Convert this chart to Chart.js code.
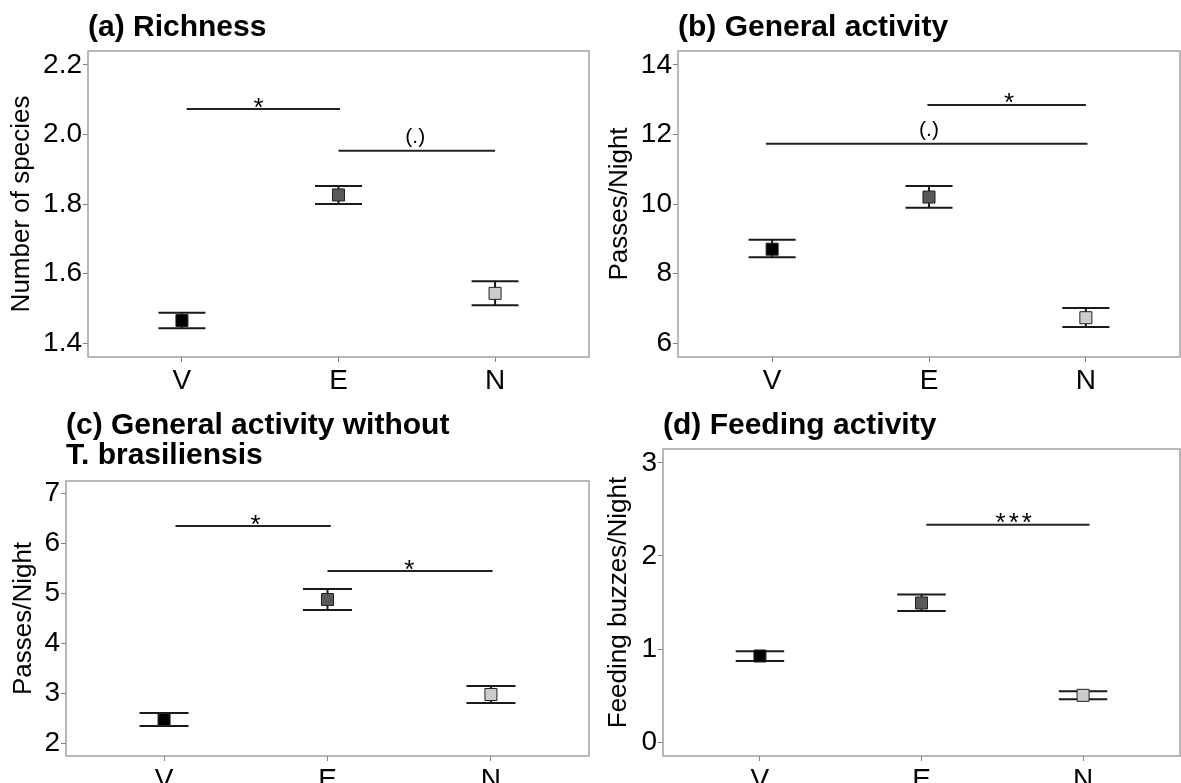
<!DOCTYPE html>
<html>
<head>
<meta charset="utf-8">
<title>Bat activity by habitat</title>
<script src="https://cdn.jsdelivr.net/npm/chart.js@4.4.0/dist/chart.umd.min.js"></script>
<style>
    html, body { margin: 0; padding: 0; background: #fff; }
    body { width: 1181px; height: 783px; position: relative; overflow: hidden; }
    .panel { position: absolute; }
</style>
</head>
<body>
<div class="panel" style="left:0;top:0;width:590px;height:390px"><canvas id="chart-a"></canvas></div>
<div class="panel" style="left:590px;top:0;width:591px;height:390px"><canvas id="chart-b"></canvas></div>
<div class="panel" style="left:0;top:390px;width:590px;height:393px"><canvas id="chart-c"></canvas></div>
<div class="panel" style="left:590px;top:390px;width:591px;height:393px"><canvas id="chart-d"></canvas></div>
<script>
// Categories (habitat) and their positions on the x axis
const categories = ['V', 'E', 'N'];
const categoryPos = [1, 2, 3];
const pointColors = ['#000000', '#595959', '#cccccc'];

// (a) Richness
const richnessMean = [1.465, 1.826, 1.543];
const richnessLow = [1.443, 1.800, 1.509];
const richnessHigh = [1.487, 1.852, 1.578];
const richnessTicks = [1.4, 1.6, 1.8, 2.0, 2.2];
// significance: [from, to, lineY, label, labelX, labelY]
const richnessSig = [
    [1.03, 2.01, 2.073, '*', 1.49, 2.074],
    [2.00, 3.00, 1.953, '(.)', 2.49, 1.993]
];

// (b) General activity
const activityMean = [8.70, 10.20, 6.73];
const activityLow = [8.47, 9.89, 6.46];
const activityHigh = [8.97, 10.52, 7.01];
const activityTicks = [6, 8, 10, 12, 14];
const activitySig = [
    [1.99, 3.00, 12.85, '*', 2.51, 12.87],
    [0.96, 3.01, 11.73, '(.)', 2.00, 12.13]
];

// (c) General activity without T. brasiliensis
const noTbMean = [2.48, 4.88, 2.98];
const noTbLow = [2.35, 4.67, 2.81];
const noTbHigh = [2.61, 5.09, 3.15];
const noTbTicks = [2, 3, 4, 5, 6, 7];
const noTbSig = [
    [1.07, 2.02, 6.35, '*', 1.56, 6.36],
    [2.00, 3.01, 5.45, '*', 2.50, 5.45]
];

// (d) Feeding activity
const feedingMean = [0.925, 1.495, 0.502];
const feedingLow = [0.871, 1.409, 0.459];
const feedingHigh = [0.975, 1.585, 0.545];
const feedingTicks = [0, 1, 2, 3];
const feedingSig = [
    [2.03, 3.04, 2.337, '***', 2.58, 2.346]
];

Chart.defaults.font.family = '"Liberation Sans", Arial, sans-serif';
Chart.defaults.color = '#000';

const BAR_HALF = 0.15;
const FONT = '"Liberation Sans", Arial, sans-serif';

// Build one panel
function makePanel(id, cfg) {
    const ctx = document.getElementById(id);
    const c = cfg.box;

    const decor = {
        id: 'decor-' + id,
        beforeDatasetsDraw(chart) {
            const {ctx, scales: {x, y}} = chart;
            ctx.save();
            ctx.strokeStyle = '#1a1a1a';
            ctx.lineWidth = 2;
            cfg.mean.forEach((m, i) => {
                const cx = x.getPixelForValue(categoryPos[i]);
                const x0 = x.getPixelForValue(categoryPos[i] - BAR_HALF);
                const x1 = x.getPixelForValue(categoryPos[i] + BAR_HALF);
                const yl = y.getPixelForValue(cfg.low[i]);
                const yh = y.getPixelForValue(cfg.high[i]);
                ctx.beginPath();
                ctx.moveTo(x0, yh); ctx.lineTo(x1, yh);
                ctx.moveTo(x0, yl); ctx.lineTo(x1, yl);
                ctx.moveTo(cx, yh); ctx.lineTo(cx, yl);
                ctx.stroke();
            });
            ctx.restore();
        },
        afterDraw(chart) {
            const {ctx, chartArea, scales: {x, y}} = chart;
            ctx.save();
            // panel border
            ctx.strokeStyle = '#a0a0a0';
            ctx.lineWidth = 1.5;
            ctx.strokeRect(chartArea.left, chartArea.top,
                chartArea.right - chartArea.left, chartArea.bottom - chartArea.top);
            // significance labels
            ctx.fillStyle = '#000';
            ctx.textAlign = 'center';
            ctx.textBaseline = 'middle';
            cfg.sig.forEach(s => {
                const stars = s[3].indexOf('*') >= 0;
                ctx.font = (stars ? '26px ' : '21px ') + FONT;
                ctx.letterSpacing = s[3].length > 1 && stars ? '3px' : '0px';
                ctx.fillText(s[3], x.getPixelForValue(s[4]), y.getPixelForValue(s[5]));
            });
            ctx.letterSpacing = '0px';
            // title
            ctx.font = 'bold 30px ' + FONT;
            ctx.textAlign = 'left';
            ctx.textBaseline = 'alphabetic';
            cfg.title.forEach((line, i) => {
                ctx.fillText(line, chartArea.left, c.titleY + i * 30);
            });
            ctx.restore();
        }
    };

    const datasets = [{
        type: 'scatter',
        data: categoryPos.map((p, i) => ({x: p, y: cfg.mean[i]})),
        pointStyle: 'rect',
        pointRadius: 8.5,
        backgroundColor: pointColors,
        borderColor: '#222',
        borderWidth: 1
    }];
    cfg.sig.forEach(s => {
        datasets.push({
            type: 'line',
            data: [{x: s[0], y: s[2]}, {x: s[1], y: s[2]}],
            borderColor: '#222',
            borderWidth: 2,
            pointRadius: 0,
            fill: false
        });
    });

    return new Chart(ctx, {
        type: 'scatter',
        data: {datasets: datasets},
        plugins: [decor],
        options: {
            responsive: true,
            maintainAspectRatio: false,
            animation: false,
            events: [],
            layout: {autoPadding: false, padding: {top: c.top, right: c.right, left: 0, bottom: 0}},
            plugins: {legend: {display: false}, tooltip: {enabled: false}},
            scales: {
                x: {
                    type: 'linear',
                    min: 0.4,
                    max: 3.6,
                    afterBuildTicks: scale => { scale.ticks = categoryPos.map(v => ({value: v})); },
                    afterFit: scale => {
                        scale.height = c.xAxisH;
                        scale.paddingLeft = 0;
                        scale.paddingRight = 0;
                    },
                    ticks: {
                        font: {size: 28},
                        color: '#000',
                        padding: 2,
                        maxRotation: 0,
                        autoSkip: false,
                        callback: v => categories[categoryPos.indexOf(v)]
                    },
                    grid: {drawOnChartArea: false, drawTicks: true, tickLength: 5, color: '#7f7f7f'},
                    border: {display: false}
                },
                y: {
                    type: 'linear',
                    min: cfg.yMin,
                    max: cfg.yMax,
                    afterBuildTicks: scale => { scale.ticks = cfg.ticks.map(v => ({value: v})); },
                    afterFit: scale => {
                        scale.width = c.yAxisW;
                        scale.paddingTop = 0;
                        scale.paddingBottom = 0;
                    },
                    ticks: {
                        font: {size: 28},
                        color: '#000',
                        padding: 1,
                        callback: v => cfg.decimals ? v.toFixed(cfg.decimals) : String(v)
                    },
                    grid: {drawOnChartArea: false, drawTicks: true, tickLength: 5, color: '#7f7f7f'},
                    border: {display: false},
                    title: {
                        display: true,
                        text: cfg.yTitle,
                        font: {size: 26},
                        color: '#000',
                        padding: {top: c.yTitlePad, bottom: 0}
                    }
                }
            }
        }
    });
}

makePanel('chart-a', {
    title: ['(a) Richness'],
    yTitle: 'Number of species',
    mean: richnessMean, low: richnessLow, high: richnessHigh,
    ticks: richnessTicks, decimals: 1, yMin: 1.36, yMax: 2.24,
    sig: richnessSig,
    box: {top: 51, right: 1, yAxisW: 88, xAxisH: 33, yTitlePad: 6, titleY: 36}
});

makePanel('chart-b', {
    title: ['(b) General activity'],
    yTitle: 'Passes/Night',
    mean: activityMean, low: activityLow, high: activityHigh,
    ticks: activityTicks, decimals: 0, yMin: 5.6, yMax: 14.4,
    sig: activitySig,
    box: {top: 51, right: 1, yAxisW: 88, xAxisH: 33, yTitlePad: 14, titleY: 36}
});

makePanel('chart-c', {
    title: ['(c) General activity without', 'T. brasiliensis'],
    yTitle: 'Passes/Night',
    mean: noTbMean, low: noTbLow, high: noTbHigh,
    ticks: noTbTicks, decimals: 0, yMin: 1.75, yMax: 7.25,
    sig: noTbSig,
    box: {top: 91, right: 1, yAxisW: 66, xAxisH: 27, yTitlePad: 8, titleY: 44}
});

makePanel('chart-d', {
    title: ['(d) Feeding activity'],
    yTitle: 'Feeding buzzes/Night',
    mean: feedingMean, low: feedingLow, high: feedingHigh,
    ticks: feedingTicks, decimals: 0, yMin: -0.15, yMax: 3.15,
    sig: feedingSig,
    box: {top: 59, right: 1, yAxisW: 73, xAxisH: 27, yTitlePad: 13, titleY: 44}
});
</script>
</body>
</html>
